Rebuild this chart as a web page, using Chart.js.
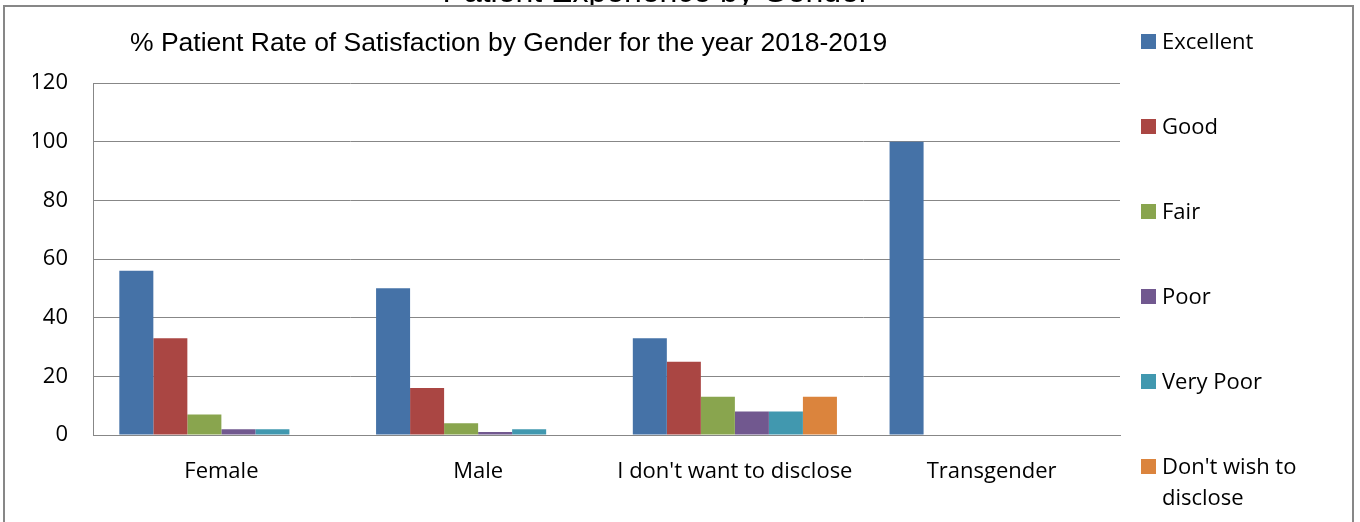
<!DOCTYPE html>
<html>
<head>
<meta charset="utf-8">
<script src="https://cdn.jsdelivr.net/npm/chart.js@4"></script>
<style>
  html, body { margin: 0; padding: 0; background: #fff; }
  #wrap { width: 1360px; height: 522px; }
</style>
</head>
<body>
<div id="wrap"><canvas id="sat-chart" width="1360" height="522"></canvas></div>
<script>
// data
var genders = ['Female', 'Male', "I don't want to disclose", 'Transgender'];
var ratingNames = ['Excellent', 'Good', 'Fair', 'Poor', 'Very Poor', "Don't wish to disclose"];
var excellent = [56, 50, 33, 100];
var good = [33, 16, 25, 0];
var fair = [7, 4, 13, 0];
var poor = [2, 1, 8, 0];
var veryPoor = [2, 2, 8, 0];
var noWish = [0, 0, 13, 0];
var yTicks = [0, 20, 40, 60, 80, 100, 120];

var colours = ['#4572A7', '#AA4643', '#89A54E', '#71588F', '#4198AF', '#DB843D'];
var legendLines = [['Excellent'], ['Good'], ['Fair'], ['Poor'], ['Very Poor'], ["Don't wish to", 'disclose']];
var gridCol = '#878787';

var series = [excellent, good, fair, poor, veryPoor, noWish];

// frame, titles and legend drawn by hand like the office chart
var decor = {
    id: 'decor',
    beforeDraw: function(chart) {
        var ctx = chart.ctx;
        ctx.save();
        ctx.fillStyle = '#fff';
        ctx.fillRect(0, 0, chart.width, chart.height);
        ctx.restore();
    },
    afterDraw: function(chart) {
        var ctx = chart.ctx;
        ctx.save();

        // cut-off heading above the frame, only its bottom edge shows
        ctx.save();
        ctx.beginPath();
        ctx.rect(0, 0, chart.width, 5);
        ctx.clip();
        ctx.fillStyle = '#000';
        ctx.font = '32px "Liberation Sans", Arial, sans-serif';
        ctx.textAlign = 'center';
        ctx.textBaseline = 'alphabetic';
        ctx.fillText('Patient Experience by Gender', 656, 2);
        ctx.restore();

        // outer frame (bottom runs off the picture)
        ctx.strokeStyle = gridCol;
        ctx.lineWidth = 2;
        ctx.beginPath();
        ctx.moveTo(4, 530);
        ctx.lineTo(4, 6);
        ctx.lineTo(1353, 6);
        ctx.lineTo(1353, 530);
        ctx.stroke();

        // chart title
        ctx.fillStyle = '#000';
        ctx.font = '26.5px "Liberation Sans", Arial, sans-serif';
        ctx.textAlign = 'left';
        ctx.textBaseline = 'middle';
        ctx.fillText('% Patient Rate of Satisfaction by Gender for the year 2018-2019', 130, 44);

        // legend
        ctx.font = '22px "Open Sans", sans-serif';
        for (var i = 0; i < ratingNames.length; i++) {
            var y = 41 + i * 85;
            ctx.fillStyle = colours[i];
            ctx.fillRect(1141, y - 7, 15, 15);
            ctx.fillStyle = '#000';
            for (var k = 0; k < legendLines[i].length; k++) {
                ctx.fillText(legendLines[i][k], 1162, y + 2 + k * 31);
            }
        }
        ctx.restore();
    }
};

var ctx = document.getElementById('sat-chart').getContext('2d');
var satChart = new Chart(ctx, {
    type: 'bar',
    data: {
        labels: genders,
        datasets: ratingNames.map(function(name, i) {
            return {
                label: name,
                data: series[i],
                backgroundColor: colours[i],
                borderWidth: 0,
                categoryPercentage: 0.795,
                barPercentage: 1.0
            };
        })
    },
    plugins: [decor],
    options: {
        responsive: false,
        animation: false,
        layout: { padding: { left: 33, top: 83, right: 240, bottom: 0 } },
        plugins: {
            legend: { display: false },
            title: { display: false },
            tooltip: { enabled: false }
        },
        scales: {
            y: {
                min: 0,
                max: 120,
                afterFit: function(scale) { scale.width = 60; },
                afterBuildTicks: function(scale) {
                    scale.ticks = yTicks.map(function(v) { return { value: v }; });
                },
                border: { display: true, color: gridCol, width: 1 },
                grid: { color: gridCol, lineWidth: 1, drawTicks: false },
                ticks: {
                    padding: 25,
                    color: '#000',
                    font: { family: 'Open Sans', size: 22 }
                }
            },
            x: {
                afterFit: function(scale) { scale.height = 87; },
                border: { display: true, color: gridCol, width: 1 },
                grid: { display: false, drawTicks: false },
                ticks: {
                    padding: 24,
                    color: '#000',
                    font: { family: 'Open Sans', size: 22 },
                    maxRotation: 0,
                    autoSkip: false
                }
            }
        }
    }
});
</script>
</body>
</html>
